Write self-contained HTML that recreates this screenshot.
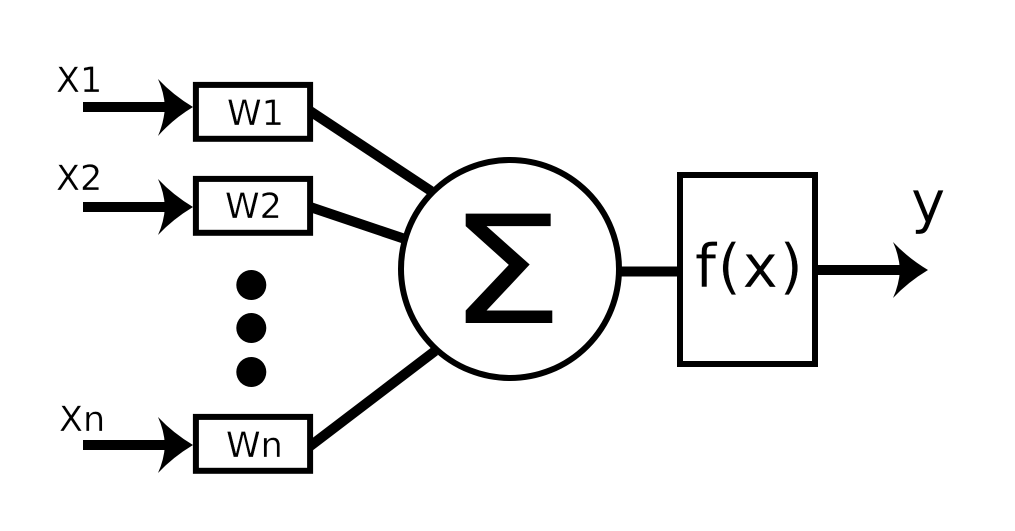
<!DOCTYPE html>
<html>
<head>
<meta charset="utf-8">
<style>
html,body{margin:0;padding:0;background:#fff;width:1015px;height:531px;overflow:hidden}
svg{display:block}
text{font-family:"DejaVu Sans","Liberation Sans",sans-serif;fill:#000}
.t{stroke:#fff;stroke-width:.35px}
</style>
</head>
<body>
<svg width="1015" height="531" viewBox="0 0 1015 531" xmlns="http://www.w3.org/2000/svg">
<rect width="1015" height="531" fill="#fff"/>

<!-- input arrows -->
<rect x="83" y="102" width="85" height="10"/>
<path d="M158 79 Q173 95 193 107 Q173 119 158 136 Q164 122 165 107 Q164 92 158 79Z"/>
<rect x="83" y="202" width="85" height="10"/>
<path d="M158 179 Q173 195 193 207 Q173 219 158 235 Q164 222 165 207 Q164 192 158 179Z"/>
<rect x="83" y="440" width="85" height="10"/>
<path d="M158 417 Q173 433 193 445 Q173 457 158 473 Q164 460 165 445 Q164 430 158 417Z"/>

<!-- connectors to sum -->
<line x1="305" y1="107.700" x2="431" y2="191" stroke="#000" stroke-width="10"/>
<line x1="305" y1="205.300" x2="405" y2="239" stroke="#000" stroke-width="10"/>
<line x1="305" y1="450" x2="435" y2="351" stroke="#000" stroke-width="10"/>
<line x1="619" y1="271.500" x2="680" y2="271.500" stroke="#000" stroke-width="10"/>

<!-- weight boxes -->
<rect x="195.900" y="84.900" width="114.200" height="53.900" fill="#fff" stroke="#000" stroke-width="6"/>
<rect x="195.900" y="178.900" width="114.200" height="53.900" fill="#fff" stroke="#000" stroke-width="6"/>
<rect x="195.900" y="416.900" width="114.200" height="53.900" fill="#fff" stroke="#000" stroke-width="6"/>

<!-- dots -->
<circle cx="251.300" cy="285" r="15"/>
<circle cx="251.300" cy="328" r="15"/>
<circle cx="251.300" cy="372" r="15"/>

<!-- sum node -->
<circle cx="510" cy="269" r="109" fill="#fff" stroke="#000" stroke-width="6"/>

<!-- activation box -->
<rect x="680" y="175" width="135" height="189" fill="#fff" stroke="#000" stroke-width="6"/>

<!-- output arrow -->
<rect x="818" y="265" width="85" height="10"/>
<path d="M893 242 Q908 258 928 270 Q908 282 893 298 Q899 285 900 270 Q899 255 893 242Z"/>

<!-- labels -->
<text class="t" x="56" y="92" font-size="35">X1</text>
<text class="t" x="56" y="190" font-size="35">X2</text>
<text class="t" x="59" y="431" font-size="35">Xn</text>
<text class="t" x="227" y="125" font-size="35">W1</text>
<text class="t" x="225" y="218" font-size="35">W2</text>
<text class="t" x="226" y="457" font-size="35">Wn</text>
<text transform="translate(447.600 323) scale(1.229 1)" font-size="150">Σ</text>
<text class="t" x="695" y="287" font-size="60" letter-spacing="1.500">f(x)</text>
<text class="t" x="911" y="222" font-size="58">y</text>
</svg>
</body>
</html>
